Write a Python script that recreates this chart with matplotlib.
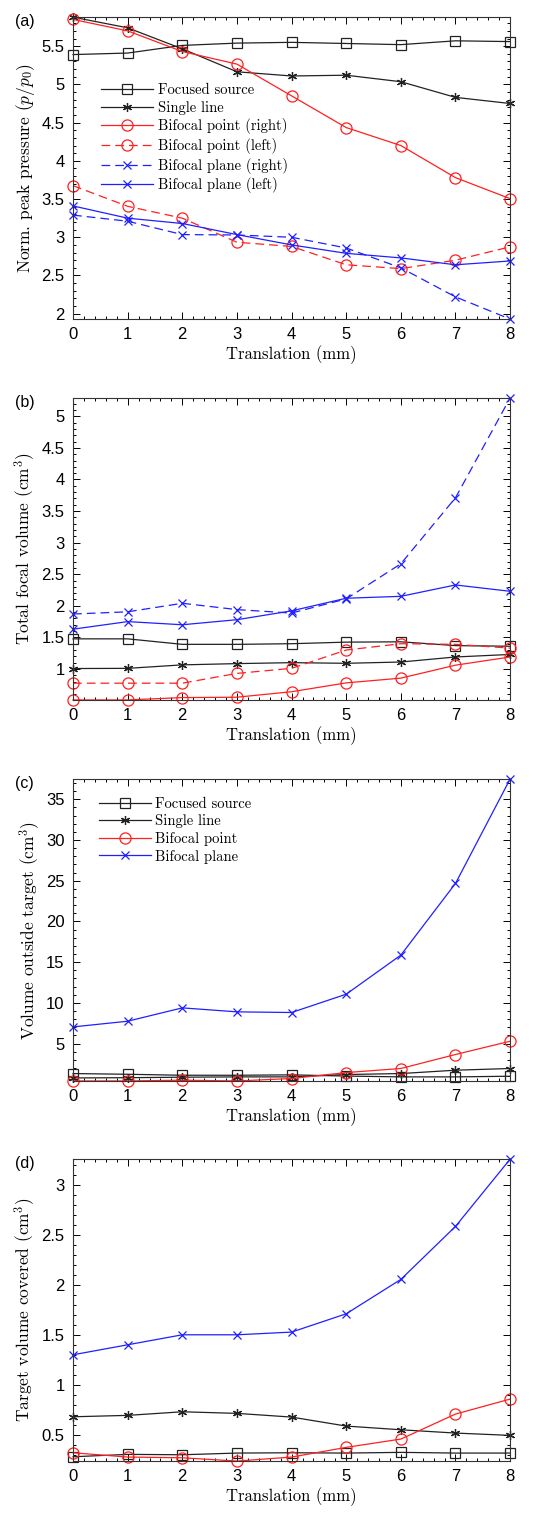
import numpy as np
import matplotlib
matplotlib.use("Agg")
import matplotlib.pyplot as plt
from matplotlib.ticker import MultipleLocator

plt.rcParams["mathtext.fontset"] = "cm"
plt.rcParams["font.family"] = ["Liberation Sans", "DejaVu Sans"]

# 平移量 (mm)
translation = [0, 1, 2, 3, 4, 5, 6, 7, 8]

# (a) 归一化峰值压力
a_focused = [5.39, 5.41, 5.51, 5.54, 5.55, 5.535, 5.52, 5.57, 5.56]
a_single = [5.88, 5.74, 5.465, 5.165, 5.11, 5.12, 5.035, 4.83, 4.75]
a_bp_right = [5.85, 5.70, 5.43, 5.265, 4.85, 4.435, 4.20, 3.78, 3.505]
a_bp_left = [3.675, 3.405, 3.25, 2.935, 2.88, 2.64, 2.59, 2.70, 2.875]
a_bpl_right = [3.29, 3.21, 3.035, 3.03, 3.0, 2.86, 2.60, 2.22, 1.93]
a_bpl_left = [3.41, 3.25, 3.18, 3.035, 2.90, 2.79, 2.73, 2.64, 2.69]

# (b) 总焦域体积
b_focused = [1.477, 1.477, 1.39, 1.39, 1.40, 1.425, 1.43, 1.37, 1.36]
b_single = [1.007, 1.01, 1.065, 1.085, 1.10, 1.09, 1.11, 1.19, 1.23]
b_bp_right = [0.51, 0.51, 0.547, 0.553, 0.64, 0.78, 0.855, 1.06, 1.19]
b_bp_left = [0.775, 0.775, 0.775, 0.93, 1.01, 1.30, 1.40, 1.39, 1.33]
b_bpl_right = [1.87, 1.905, 2.04, 1.94, 1.885, 2.11, 2.665, 3.71, 5.29]
b_bpl_left = [1.63, 1.75, 1.70, 1.78, 1.92, 2.12, 2.15, 2.33, 2.23]

# (c) 目标外体积
c_focused = [1.31, 1.22, 1.10, 1.10, 1.15, 1.0, 0.9, 0.9, 0.98]
c_single = [0.77, 0.80, 0.86, 0.90, 0.90, 1.19, 1.31, 1.72, 1.93]
c_bp = [0.40, 0.40, 0.49, 0.40, 0.70, 1.43, 1.93, 3.65, 5.28]
c_bpl = [7.04, 7.74, 9.38, 8.89, 8.81, 11.06, 15.86, 24.67, 37.5]

# (d) 目标覆盖体积
d_focused = [0.28, 0.304, 0.30, 0.317, 0.32, 0.317, 0.324, 0.317, 0.317]
d_single = [0.68, 0.694, 0.73, 0.714, 0.677, 0.587, 0.55, 0.517, 0.494]
d_bp = [0.32, 0.277, 0.27, 0.237, 0.277, 0.374, 0.457, 0.707, 0.857]
d_bpl = [1.30, 1.40, 1.50, 1.50, 1.527, 1.71, 2.054, 2.584, 3.257]

BLACK = "#222222"
RED = "#ff2020"
BLUE = "#2020ff"
SERIF = "cmr10"
DASH = (0, (7, 4))

STAR = dict(marker=(6, 2, 0), markersize=6.5, markeredgewidth=0.9)
SQUARE = dict(marker="s", markersize=6.5, markerfacecolor="none", markeredgewidth=0.9)
CIRCLE = dict(marker="o", markersize=8, markerfacecolor="none", markeredgewidth=0.9)
CROSS = dict(marker="x", markersize=5.5, markeredgewidth=0.9)

fig = plt.figure(figsize=(5.45, 15.15), dpi=100)

left = 0.134
width = 0.802
height = 0.1993
bottoms = [0.7894, 0.538, 0.2865, 0.0356]
ylabels = [
    "Norm. peak pressure ($p/p_0$)",
    "Total focal volume (cm$^3$)",
    "Volume outside target (cm$^3$)",
    "Target volume covered (cm$^3$)",
]
panel_tags = ["(a)", "(b)", "(c)", "(d)"]
y_major = [0.5, 0.5, 5, 0.5]
y_minor = [0.1, 0.1, 1, 0.1]

axes = []
for i in range(4):
    ax = fig.add_axes([left, bottoms[i], width, height])
    axes.append(ax)

lw = 0.9

# (a)
ax = axes[0]
ax.plot(translation, a_focused, color=BLACK, lw=lw, label="Focused source", **SQUARE)
ax.plot(translation, a_single, color=BLACK, lw=lw, label="Single line", **STAR)
ax.plot(translation, a_bp_right, color=RED, lw=lw, label="Bifocal point (right)", **CIRCLE)
ax.plot(translation, a_bp_left, color=RED, lw=lw, ls=DASH, label="Bifocal point (left)", **CIRCLE)
ax.plot(translation, a_bpl_right, color=BLUE, lw=lw, ls=DASH, label="Bifocal plane (right)", **CROSS)
ax.plot(translation, a_bpl_left, color=BLUE, lw=lw, label="Bifocal plane (left)", **CROSS)
all_a = a_focused + a_single + a_bp_right + a_bp_left + a_bpl_right + a_bpl_left
ax.set_ylim(min(all_a), max(all_a))
ax.legend(loc="upper left", bbox_to_anchor=(0.05, 0.8), frameon=False,
          prop={"family": SERIF, "size": 10.5}, handlelength=3.6,
          labelspacing=0.25, handletextpad=0.3, borderaxespad=0)

# (b)
ax = axes[1]
ax.plot(translation, b_focused, color=BLACK, lw=lw, **SQUARE)
ax.plot(translation, b_single, color=BLACK, lw=lw, **STAR)
ax.plot(translation, b_bp_right, color=RED, lw=lw, **CIRCLE)
ax.plot(translation, b_bp_left, color=RED, lw=lw, ls=DASH, **CIRCLE)
ax.plot(translation, b_bpl_right, color=BLUE, lw=lw, ls=DASH, **CROSS)
ax.plot(translation, b_bpl_left, color=BLUE, lw=lw, **CROSS)
all_b = b_focused + b_single + b_bp_right + b_bp_left + b_bpl_right + b_bpl_left
ax.set_ylim(min(all_b), max(all_b))

# (c)
ax = axes[2]
ax.plot(translation, c_focused, color=BLACK, lw=lw, label="Focused source", **SQUARE)
ax.plot(translation, c_single, color=BLACK, lw=lw, label="Single line", **STAR)
ax.plot(translation, c_bp, color=RED, lw=lw, label="Bifocal point", **CIRCLE)
ax.plot(translation, c_bpl, color=BLUE, lw=lw, label="Bifocal plane", **CROSS)
all_c = c_focused + c_single + c_bp + c_bpl
ax.set_ylim(min(all_c), max(all_c))
ax.legend(loc="upper left", bbox_to_anchor=(0.045, 0.96), frameon=False,
          prop={"family": SERIF, "size": 10.5}, handlelength=3.6,
          labelspacing=0.25, handletextpad=0.3, borderaxespad=0)

# (d)
ax = axes[3]
ax.plot(translation, d_focused, color=BLACK, lw=lw, **SQUARE)
ax.plot(translation, d_single, color=BLACK, lw=lw, **STAR)
ax.plot(translation, d_bp, color=RED, lw=lw, **CIRCLE)
ax.plot(translation, d_bpl, color=BLUE, lw=lw, **CROSS)
all_d = d_focused + d_single + d_bp + d_bpl
ax.set_ylim(min(all_d), max(all_d))

for i, ax in enumerate(axes):
    ax.set_xlim(0, 8)
    ax.xaxis.set_major_locator(MultipleLocator(1))
    ax.xaxis.set_minor_locator(MultipleLocator(0.2))
    ax.yaxis.set_major_locator(MultipleLocator(y_major[i]))
    ax.yaxis.set_minor_locator(MultipleLocator(y_minor[i]))
    ax.tick_params(which="both", direction="in", top=True, right=True,
                   labelsize=12, width=0.7)
    ax.tick_params(which="major", length=5, pad=6)
    ax.tick_params(which="minor", length=2.5)
    ax.yaxis.set_major_formatter(plt.FuncFormatter(lambda v, p: ("%g" % v)))
    for s in ax.spines.values():
        s.set_linewidth(0.8)
        s.set_color("#333333")
    ax.set_xlabel("Translation (mm)", family=SERIF, fontsize=12, labelpad=2)
    ax.set_ylabel(ylabels[i], family=SERIF, fontsize=12.5, labelpad=3)
    for ln in ax.lines:
        ln.set_clip_on(False)
    fig.text(0.028, bottoms[i] + height - 0.003, panel_tags[i], fontsize=11.5,
             ha="left", va="center")

fig.savefig("out.png", dpi=100)
